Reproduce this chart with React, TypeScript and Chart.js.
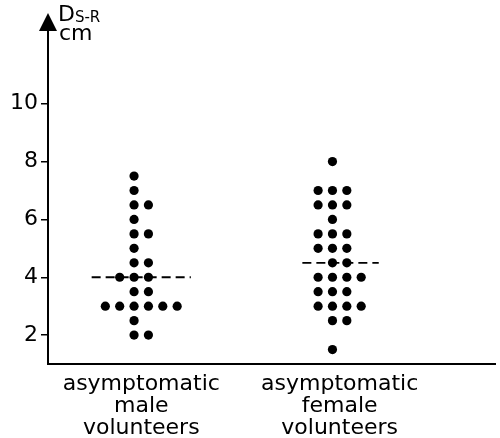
import React, { useEffect, useRef } from "react";
import { Chart, registerables } from "chart.js";

Chart.register(...registerables);

// Categories (groups)
const categories: string[][] = [
  ["asymptomatic", "male", "volunteers"],
  ["asymptomatic", "female", "volunteers"],
];

// Individual measurements (Ds-R, cm) and their stripchart column in each group
const maleValues = [7.5, 7, 6.5, 6.5, 6, 5.5, 5.5, 5, 4.5, 4.5, 4, 4, 4, 3.5, 3.5, 3, 3, 3, 3, 3, 3, 2.5, 2, 2];
const maleCols = [0, 0, 0, 1, 0, 0, 1, 0, 0, 1, -1, 0, 1, 0, 1, -2, -1, 0, 1, 2, 3, 0, 0, 1];

const femaleValues = [8, 7, 7, 7, 6.5, 6.5, 6.5, 6, 5.5, 5.5, 5.5, 5, 5, 5, 4.5, 4.5, 4, 4, 4, 4, 3.5, 3.5, 3.5, 3, 3, 3, 3, 2.5, 2.5, 1.5];
const femaleCols = [0, -1, 0, 1, -1, 0, 1, 0, -1, 0, 1, -1, 0, 1, 0, 1, -1, 0, 1, 2, -1, 0, 1, -1, 0, 1, 2, 0, 1, 0];

// Group medians (dashed lines)
const medians = [4.0, 4.5];
const medianSpans = [
  [-0.25, 0.25],
  [-0.188, 0.197],
];

const yTicks = [2, 4, 6, 8, 10];

const COL_STEP = 0.0724;
const FONT = "'DejaVu Sans', sans-serif";

function points(values: number[], cols: number[], cat: number) {
  return values.map((v, i) => ({ x: cat + (cols[i] - 0.5) * COL_STEP, y: v }));
}

const axisTitlePlugin = {
  id: "axisTitle",
  afterDraw(chart: any) {
    const { ctx, chartArea } = chart;
    const x0 = chartArea.left;
    const top = chartArea.top;
    ctx.save();
    ctx.fillStyle = "#000";
    // arrow head
    ctx.beginPath();
    ctx.moveTo(x0, top - 4);
    ctx.lineTo(x0 - 9, top + 14);
    ctx.lineTo(x0 + 9, top + 14);
    ctx.closePath();
    ctx.fill();
    // axis label
    ctx.textBaseline = "alphabetic";
    ctx.textAlign = "left";
    ctx.font = `22px ${FONT}`;
    ctx.fillText("D", x0 + 10, top + 4);
    const dW = ctx.measureText("D").width;
    ctx.font = `15px ${FONT}`;
    ctx.fillText("S-R", x0 + 10 + dW, top + 5);
    ctx.font = `22px ${FONT}`;
    ctx.fillText("cm", x0 + 11, top + 23);
    ctx.restore();
  },
};

export default function App() {
  const ref = useRef<HTMLCanvasElement | null>(null);

  useEffect(() => {
    if (!ref.current) return;
    const dotStyle = {
      type: "scatter" as const,
      backgroundColor: "#000",
      borderColor: "#000",
      pointRadius: 4.6,
      pointHoverRadius: 4.6,
      borderWidth: 0,
    };
    const chart = new Chart(ref.current, {
      type: "scatter",
      data: {
        datasets: [
          { ...dotStyle, label: "male", data: points(maleValues, maleCols, 0) },
          { ...dotStyle, label: "female", data: points(femaleValues, femaleCols, 1) },
          ...medians.map((m, i) => ({
            type: "line" as const,
            label: "median " + i,
            data: [
              { x: i + medianSpans[i][0], y: m },
              { x: i + medianSpans[i][1], y: m },
            ],
            borderColor: "#000",
            borderWidth: 1.8,
            borderDash: [9, 5],
            pointRadius: 0,
            showLine: true,
          })),
        ],
      },
      options: {
        responsive: false,
        animation: false,
        layout: { padding: { top: 17, right: 0, left: 0, bottom: 0 } },
        plugins: {
          legend: { display: false },
          tooltip: { enabled: false },
        },
        scales: {
          x: {
            type: "linear",
            min: -0.47,
            max: 1.785,
            grid: { display: false },
            border: { display: true, color: "#000", width: 2 },
            afterBuildTicks: (scale: any) => {
              scale.ticks = categories.map((_, i) => ({ value: i }));
            },
            afterFit: (scale: any) => {
              scale.height = 74;
            },
            ticks: {
              color: "#000",
              padding: 2,
              maxRotation: 0,
              autoSkip: false,
              font: { family: FONT, size: 22, lineHeight: 0.98 },
              callback: (v: any) => categories[Math.round(Number(v))] ?? "",
            },
          },
          y: {
            type: "linear",
            min: 1,
            max: 13,
            grid: {
              display: true,
              drawOnChartArea: false,
              drawTicks: true,
              tickLength: 7,
              color: "#000",
              lineWidth: 1.5,
            },
            border: { display: true, color: "#000", width: 2 },
            afterBuildTicks: (scale: any) => {
              scale.ticks = yTicks.map((v) => ({ value: v }));
            },
            afterFit: (scale: any) => {
              scale.width = 48;
            },
            ticks: {
              color: "#000",
              padding: 3,
              font: { family: FONT, size: 22 },
            },
          },
        },
      },
      plugins: [axisTitlePlugin],
    } as any);
    return () => chart.destroy();
  }, []);

  return (
    <div style={{ position: "absolute", left: 0, top: 0, width: 500, height: 438, background: "#fff" }}>
      <canvas ref={ref} width={500} height={438} style={{ width: 500, height: 438, display: "block" }} />
    </div>
  );
}
